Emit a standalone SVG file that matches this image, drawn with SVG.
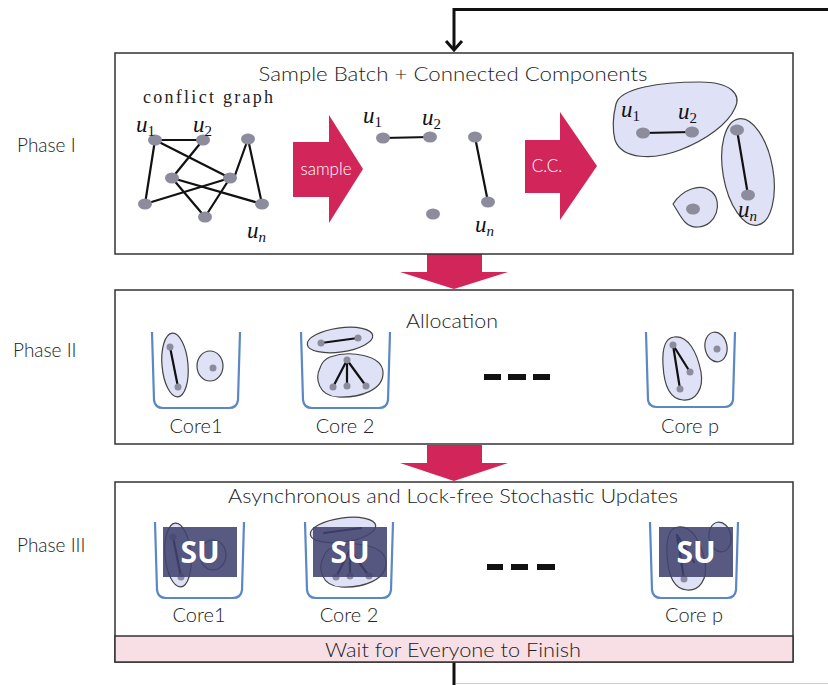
<svg xmlns="http://www.w3.org/2000/svg" width="828" height="685" viewBox="0 0 828 685">
  <defs>
    <style>
      .sans { font-family: Lato, "Open Sans", "Liberation Sans", sans-serif; font-weight: 300; fill: #222; }
      .title { font-size: 19px; }
      .phase { font-size: 19px; }
      .core { font-size: 20px; }
      .math { font-family: "Liberation Serif", "DejaVu Serif", serif; font-style: italic; font-size: 23px; fill: #111; }
      .sub { font-size: 15px; font-style: normal; }
      .subi { font-size: 15px; font-style: italic; }
      .panel { fill: #fff; stroke: #333; stroke-width: 1.5; }
      .edge { stroke: #111; stroke-width: 2.2; stroke-linecap: round; fill: none; }
      .node { fill: #8c8c9c; }
      .blob { fill: #dfe1f6; stroke: #444; stroke-width: 1.2; }
      .cup { fill: none; stroke: #5a88c4; stroke-width: 2.2; stroke-linejoin: round; }
      .bigarrow { fill: #d2265a; }
      .arrowtxt { font-family: Lato, "Open Sans", "Liberation Sans", sans-serif; font-weight: 300; font-size: 17px; fill: #fff; }
      .dash { stroke: #111; stroke-width: 6; }
      .su { fill: #424370; opacity: 0.88; }
      .sutxt { font-family: "Open Sans", Lato, "Liberation Sans", sans-serif; font-weight: bold; font-size: 30px; fill: #fff; }
      .flow { stroke: #111; stroke-width: 3; fill: none; }
    </style>
  </defs>

  <rect width="828" height="685" fill="#fff"/>

  <!-- feedback loop from the end of phase III back to phase I -->
  <g id="connectors">
    <path class="flow" d="M828,9.5 H454 V50"/>
    <path class="flow" d="M446,41 L454,50 L462,41"/>
    <path class="flow" d="M454,662 V685"/>
    <line x1="456" y1="683.5" x2="828" y2="683.5" stroke="#ccc" stroke-width="1"/>
    <!-- phase-to-phase block arrows -->
    <path class="bigarrow" d="M427,254 H482 V272 H508 L454,289 L400,272 H427 Z"/>
    <path class="bigarrow" d="M427,445 H482 V463 H508 L454,481 L400,463 H427 Z"/>
  </g>

  <!-- phase labels -->
  <g id="phase-labels" class="sans phase">
    <text x="17" y="152">Phase I</text>
    <text x="13" y="357">Phase II</text>
    <text x="17" y="552">Phase III</text>
  </g>

  <!-- Phase I: sampling and connected components -->
  <g id="phase1">
    <rect class="panel" x="115" y="53" width="678" height="201"/>
    <text class="sans title" x="453" y="81" text-anchor="middle" textLength="389" lengthAdjust="spacingAndGlyphs">Sample Batch + Connected Components</text>
    <text x="143" y="103" font-family="'Liberation Serif', 'DejaVu Serif', serif" font-size="18" fill="#222" textLength="130" lengthAdjust="spacing">conflict graph</text>

    <!-- full conflict graph -->
    <g id="conflict-graph">
      <line class="edge" x1="155" y1="140" x2="203" y2="140"/>
      <line class="edge" x1="155" y1="140" x2="145" y2="204"/>
      <line class="edge" x1="155" y1="140" x2="230" y2="178"/>
      <line class="edge" x1="203" y1="140" x2="172" y2="178"/>
      <line class="edge" x1="248" y1="139" x2="234" y2="178"/>
      <line class="edge" x1="248" y1="139" x2="262" y2="204"/>
      <line class="edge" x1="172" y1="178" x2="262" y2="204"/>
      <line class="edge" x1="145" y1="204" x2="230" y2="178"/>
      <line class="edge" x1="172" y1="178" x2="205" y2="217"/>
      <line class="edge" x1="230" y1="178" x2="205" y2="217"/>
      <ellipse class="node" cx="155" cy="140" rx="7" ry="5.5"/>
      <ellipse class="node" cx="203" cy="140" rx="7" ry="5.5"/>
      <ellipse class="node" cx="248" cy="139" rx="7" ry="5.5"/>
      <ellipse class="node" cx="172" cy="178" rx="7" ry="5.5"/>
      <ellipse class="node" cx="230" cy="178" rx="7" ry="5.5"/>
      <ellipse class="node" cx="145" cy="204" rx="7" ry="5.5"/>
      <ellipse class="node" cx="262" cy="204" rx="7" ry="5.5"/>
      <ellipse class="node" cx="205" cy="217" rx="7" ry="5.5"/>
      <text class="math" x="136" y="132">u<tspan class="sub" dy="4">1</tspan></text>
      <text class="math" x="193" y="132">u<tspan class="sub" dy="4">2</tspan></text>
      <text class="math" x="247" y="238">u<tspan class="subi" dy="4">n</tspan></text>
    </g>

    <g id="sample-arrow">
      <path class="bigarrow" d="M293,142 H329 V115 L363,169 L329,223 V197 H293 Z"/>
      <text class="arrowtxt" x="326" y="175" text-anchor="middle">sample</text>
    </g>

    <!-- sampled subgraph -->
    <g id="sampled-graph">
      <line class="edge" x1="383" y1="138" x2="430" y2="137"/>
      <line class="edge" x1="475" y1="137" x2="488" y2="202"/>
      <ellipse class="node" cx="383" cy="138" rx="7" ry="5.5"/>
      <ellipse class="node" cx="430" cy="137" rx="7" ry="5.5"/>
      <ellipse class="node" cx="475" cy="137" rx="7" ry="5.5"/>
      <ellipse class="node" cx="488" cy="202" rx="7" ry="5.5"/>
      <ellipse class="node" cx="433" cy="214" rx="7" ry="5.5"/>
      <text class="math" x="363" y="123">u<tspan class="sub" dy="4">1</tspan></text>
      <text class="math" x="422" y="125">u<tspan class="sub" dy="4">2</tspan></text>
      <text class="math" x="475" y="232">u<tspan class="subi" dy="4">n</tspan></text>
    </g>

    <g id="cc-arrow">
      <path class="bigarrow" d="M525,140 H560 V112 L597,166 L560,220 V193 H525 Z"/>
      <text class="arrowtxt" x="547" y="172" text-anchor="middle">C.C.</text>
    </g>

    <!-- connected components -->
    <g id="components">
      <path class="blob" d="M616,104 C620,88 660,82 700,82 C730,82 742,94 735,108 C728,124 706,140 680,150 C654,160 622,160 615,140 C612,128 613,116 616,104 Z"/>
      <ellipse class="blob" cx="748" cy="172" rx="25" ry="54" transform="rotate(-10 748 172)"/>
      <path class="blob" d="M673,204 C682,190 700,182 712,192 C723,202 717,226 698,227 C684,228 680,214 673,204 Z"/>
      <line class="edge" x1="643" y1="133" x2="692" y2="132"/>
      <line class="edge" x1="737" y1="130" x2="748" y2="195"/>
      <ellipse class="node" cx="643" cy="133" rx="7" ry="5.5"/>
      <ellipse class="node" cx="692" cy="132" rx="7" ry="5.5"/>
      <ellipse class="node" cx="737" cy="130" rx="7" ry="5.5"/>
      <ellipse class="node" cx="748" cy="195" rx="7" ry="5.5"/>
      <ellipse class="node" cx="693" cy="209" rx="7" ry="5.5"/>
      <text class="math" x="621" y="117">u<tspan class="sub" dy="4">1</tspan></text>
      <text class="math" x="678" y="119">u<tspan class="sub" dy="4">2</tspan></text>
      <text class="math" x="738" y="217">u<tspan class="subi" dy="4">n</tspan></text>
    </g>
  </g>

  <!-- Phase II: allocation of components to cores -->
  <g id="phase2">
    <rect class="panel" x="115" y="290" width="678" height="154"/>
    <text class="sans title" x="452" y="328" text-anchor="middle" textLength="92" lengthAdjust="spacingAndGlyphs">Allocation</text>

    <g id="core1-alloc">
      <path class="cup" d="M152,332 L154,400 Q155,408 163,408 H229 Q237,408 238,400 L240,332"/>
      <ellipse class="blob" cx="175" cy="365" rx="13" ry="32" transform="rotate(-5 175 365)"/>
      <ellipse class="blob" cx="210" cy="366" rx="13" ry="15"/>
      <line class="edge" x1="170" y1="347" x2="178" y2="387"/>
      <circle class="node" cx="170" cy="347" r="3.5"/>
      <circle class="node" cx="178" cy="387" r="3.5"/>
      <circle class="node" cx="213" cy="368" r="3.5"/>
      <text class="sans core" x="196" y="433" text-anchor="middle">Core1</text>
    </g>

    <g id="core2-alloc">
      <path class="cup" d="M301,332 L303,400 Q304,408 312,408 H379 Q387,408 388,400 L390,332"/>
      <ellipse class="blob" cx="340" cy="340" rx="33" ry="12" transform="rotate(-8 340 340)"/>
      <path class="blob" d="M330,357 C350,350 382,355 383,372 C384,390 360,398 338,397 C318,396 315,378 320,368 C322,362 325,359 330,357 Z"/>
      <line class="edge" x1="321" y1="343" x2="358" y2="338"/>
      <line class="edge" x1="347" y1="360" x2="333" y2="387"/>
      <line class="edge" x1="347" y1="360" x2="347" y2="386"/>
      <line class="edge" x1="347" y1="360" x2="366" y2="386"/>
      <circle class="node" cx="321" cy="343" r="3.5"/>
      <circle class="node" cx="358" cy="338" r="3.5"/>
      <circle class="node" cx="347" cy="360" r="3.5"/>
      <circle class="node" cx="333" cy="387" r="3.5"/>
      <circle class="node" cx="347" cy="386" r="3.5"/>
      <circle class="node" cx="366" cy="386" r="3.5"/>
      <text class="sans core" x="345" y="433" text-anchor="middle">Core 2</text>
    </g>

    <g id="ellipsis-alloc">
      <line class="dash" x1="484" y1="377" x2="501" y2="377"/>
      <line class="dash" x1="508" y1="377" x2="526" y2="377"/>
      <line class="dash" x1="533" y1="377" x2="550" y2="377"/>
    </g>

    <g id="corep-alloc">
      <path class="cup" d="M646,332 L648,400 Q649,407 657,407 H724 Q732,407 733,400 L735,332"/>
      <path class="blob" d="M674,337 C688,335 697,352 701,372 C704,390 695,401 683,400 C669,399 664,385 663,365 C662,348 665,338 674,337 Z"/>
      <ellipse class="blob" cx="716" cy="347" rx="11" ry="15" transform="rotate(-10 716 347)"/>
      <line class="edge" x1="673" y1="345" x2="690" y2="372"/>
      <line class="edge" x1="673" y1="345" x2="680" y2="389"/>
      <circle class="node" cx="673" cy="345" r="3.5"/>
      <circle class="node" cx="690" cy="372" r="3.5"/>
      <circle class="node" cx="680" cy="389" r="3.5"/>
      <circle class="node" cx="717" cy="349" r="3.5"/>
      <text class="sans core" x="690" y="433" text-anchor="middle">Core p</text>
    </g>
  </g>

  <!-- Phase III: asynchronous stochastic updates on each core -->
  <g id="phase3">
    <rect class="panel" x="115" y="482" width="678" height="180"/>
    <rect x="115" y="636" width="678" height="26" fill="#f7dfe5" stroke="#333" stroke-width="1.5"/>
    <text class="sans title" x="453" y="503" text-anchor="middle" textLength="450" lengthAdjust="spacingAndGlyphs">Asynchronous and Lock-free Stochastic Updates</text>
    <text class="sans title" x="453" y="657" text-anchor="middle" textLength="256" lengthAdjust="spacingAndGlyphs">Wait for Everyone to Finish</text>

    <g id="core1-su">
      <path class="cup" d="M155,522 L157,590 Q158,598 166,598 H233 Q241,598 242,590 L244,522"/>
      <ellipse class="blob" cx="178" cy="555" rx="13" ry="32" transform="rotate(-5 178 555)"/>
      <ellipse class="blob" cx="213" cy="555" rx="13" ry="15"/>
      <line class="edge" x1="173" y1="537" x2="181" y2="577"/>
      <circle class="node" cx="173" cy="537" r="3.5"/>
      <circle class="node" cx="181" cy="577" r="3.5"/>
      <rect class="su" x="163" y="527" width="74" height="50"/>
      <text class="sutxt" x="200" y="563" text-anchor="middle">SU</text>
      <text class="sans core" x="199" y="622" text-anchor="middle">Core1</text>
    </g>

    <g id="core2-su">
      <path class="cup" d="M305,522 L307,590 Q308,598 316,598 H382 Q390,598 391,590 L393,522"/>
      <ellipse class="blob" cx="343" cy="530" rx="33" ry="12" transform="rotate(-8 343 530)"/>
      <path class="blob" d="M333,547 C353,540 385,545 386,562 C387,580 363,588 341,587 C321,586 318,568 323,558 C325,552 328,549 333,547 Z"/>
      <line class="edge" x1="324" y1="533" x2="361" y2="528"/>
      <line class="edge" x1="350" y1="550" x2="336" y2="577"/>
      <line class="edge" x1="350" y1="550" x2="350" y2="576"/>
      <line class="edge" x1="350" y1="550" x2="369" y2="576"/>
      <circle class="node" cx="336" cy="577" r="3.5"/>
      <circle class="node" cx="350" cy="576" r="3.5"/>
      <circle class="node" cx="369" cy="576" r="3.5"/>
      <rect class="su" x="313" y="527" width="74" height="50"/>
      <text class="sutxt" x="350" y="563" text-anchor="middle">SU</text>
      <text class="sans core" x="349" y="622" text-anchor="middle">Core 2</text>
    </g>

    <g id="ellipsis-su">
      <line class="dash" x1="487" y1="567" x2="503" y2="567"/>
      <line class="dash" x1="511" y1="567" x2="528" y2="567"/>
      <line class="dash" x1="537" y1="567" x2="555" y2="567"/>
    </g>

    <g id="corep-su">
      <path class="cup" d="M650,522 L652,590 Q653,598 661,598 H727 Q735,598 736,590 L738,522"/>
      <path class="blob" d="M678,527 C692,525 701,542 705,562 C708,580 699,591 687,590 C673,589 668,575 667,555 C666,538 669,528 678,527 Z"/>
      <ellipse class="blob" cx="720" cy="537" rx="11" ry="15" transform="rotate(-10 720 537)"/>
      <line class="edge" x1="677" y1="535" x2="694" y2="562"/>
      <line class="edge" x1="677" y1="535" x2="684" y2="579"/>
      <circle class="node" cx="684" cy="579" r="3.5"/>
      <rect class="su" x="659" y="527" width="74" height="50"/>
      <text class="sutxt" x="696" y="563" text-anchor="middle">SU</text>
      <text class="sans core" x="694" y="622" text-anchor="middle">Core p</text>
    </g>
  </g>
</svg>
